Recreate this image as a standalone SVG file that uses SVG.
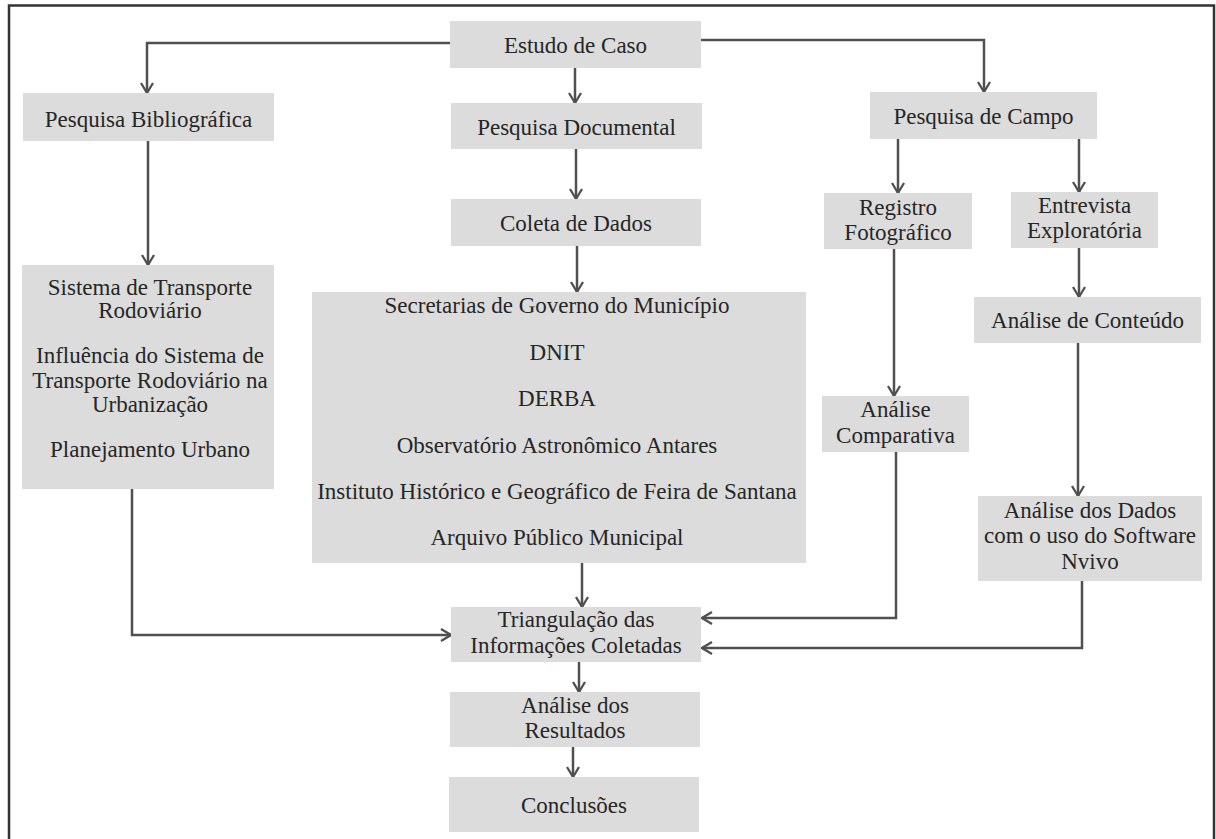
<svg xmlns="http://www.w3.org/2000/svg" width="1216" height="839" viewBox="0 0 1216 839">
<style>
.box{fill:#dcdcdc;}
.t{font-family:"Liberation Serif","Times New Roman","DejaVu Serif",Times,serif;font-size:23px;fill:#262626;text-anchor:middle;}
.c{fill:none;stroke:#505050;stroke-width:2.5;marker-end:url(#ah);}
</style>
<defs>
<marker id="ah" markerUnits="userSpaceOnUse" markerWidth="14" markerHeight="14" viewBox="0 0 14 14" refX="12" refY="7" orient="auto">
<path d="M2,1 L12,7 L2,13" fill="none" stroke="#505050" stroke-width="2.3"/>
</marker>
</defs>
<rect x="0" y="0" width="1216" height="839" fill="#ffffff"/>
<rect id="frame" x="9" y="5.5" width="1205" height="845" fill="none" stroke="#333" stroke-width="2.5"/>

<g id="connectors">
<path class="c" d="M450,43 H147 V93"/>
<path class="c" d="M575,68 V103"/>
<path class="c" d="M701,40 H984 V92"/>
<path class="c" d="M148,141 V265"/>
<path class="c" d="M576,149 V199"/>
<path class="c" d="M577,246 V292"/>
<path class="c" d="M582,563 V607"/>
<path class="c" d="M132,489 V635 H451"/>
<path class="c" d="M898,139 V193"/>
<path class="c" d="M1079,139 V192"/>
<path class="c" d="M1079,248 V297"/>
<path class="c" d="M894,249 V396"/>
<path class="c" d="M1078,343 V496"/>
<path class="c" d="M896,452 V618 H702"/>
<path class="c" d="M1082,581 V648 H702"/>
<path class="c" d="M579,662 V692"/>
<path class="c" d="M573,747 V777"/>
</g>

<g id="estudo">
<rect class="box" x="450" y="21" width="251" height="47"/>
<text class="t" x="575.5" y="53" font-family="Liberation Serif">Estudo de Caso</text>
</g>
<g id="pesq-bib">
<rect class="box" x="23" y="93" width="251" height="48"/>
<text class="t" x="148.5" y="127">Pesquisa Bibliográfica</text>
</g>
<g id="pesq-doc">
<rect class="box" x="451" y="103" width="251" height="46"/>
<text class="t" x="576.5" y="135">Pesquisa Documental</text>
</g>
<g id="coleta">
<rect class="box" x="451" y="199" width="250" height="47"/>
<text class="t" x="576" y="231">Coleta de Dados</text>
</g>
<g id="pesq-campo">
<rect class="box" x="870" y="92" width="227" height="47"/>
<text class="t" x="983.5" y="124">Pesquisa de Campo</text>
</g>
<g id="registro">
<rect class="box" x="824" y="193" width="148" height="56"/>
<text class="t" x="898" y="215">Registro</text>
<text class="t" x="898" y="240">Fotográfico</text>
</g>
<g id="entrevista">
<rect class="box" x="1011" y="192" width="147" height="56"/>
<text class="t" x="1084.5" y="213">Entrevista</text>
<text class="t" x="1084.5" y="238">Exploratória</text>
</g>
<g id="conteudo">
<rect class="box" x="974" y="297" width="227" height="46"/>
<text class="t" x="1087.5" y="328">Análise de Conteúdo</text>
</g>
<g id="comparativa">
<rect class="box" x="822" y="396" width="147" height="56"/>
<text class="t" x="895.5" y="417">Análise</text>
<text class="t" x="895.5" y="443">Comparativa</text>
</g>
<g id="dados">
<rect class="box" x="978" y="496" width="224" height="85"/>
<text class="t" x="1090" y="518">Análise dos Dados</text>
<text class="t" x="1090" y="543">com o uso do Software</text>
<text class="t" x="1090" y="569">Nvivo</text>
</g>
<g id="sistema">
<rect class="box" x="22" y="265" width="252" height="224"/>
<text class="t" x="150" y="295">Sistema de Transporte</text>
<text class="t" x="150" y="318">Rodoviário</text>
<text class="t" x="150" y="363">Influência do Sistema de</text>
<text class="t" x="150" y="388">Transporte Rodoviário na</text>
<text class="t" x="150" y="412">Urbanização</text>
<text class="t" x="150" y="457">Planejamento Urbano</text>
</g>
<g id="fontes">
<rect class="box" x="312" y="292" width="494" height="271"/>
<text class="t" x="557" y="313">Secretarias de Governo do Município</text>
<text class="t" x="557" y="360">DNIT</text>
<text class="t" x="557" y="406">DERBA</text>
<text class="t" x="557" y="453">Observatório Astronômico Antares</text>
<text class="t" x="557" y="499">Instituto Histórico e Geográfico de Feira de Santana</text>
<text class="t" x="557" y="545">Arquivo Público Municipal</text>
</g>
<g id="triangulacao">
<rect class="box" x="451" y="607" width="250" height="55"/>
<text class="t" x="576" y="627">Triangulação das</text>
<text class="t" x="576" y="653">Informações Coletadas</text>
</g>
<g id="resultados">
<rect class="box" x="450" y="692" width="250" height="55"/>
<text class="t" x="575" y="713">Análise dos</text>
<text class="t" x="575" y="738">Resultados</text>
</g>
<g id="conclusoes">
<rect class="box" x="449" y="777" width="250" height="55"/>
<text class="t" x="574" y="813">Conclusões</text>
</g>
</svg>
